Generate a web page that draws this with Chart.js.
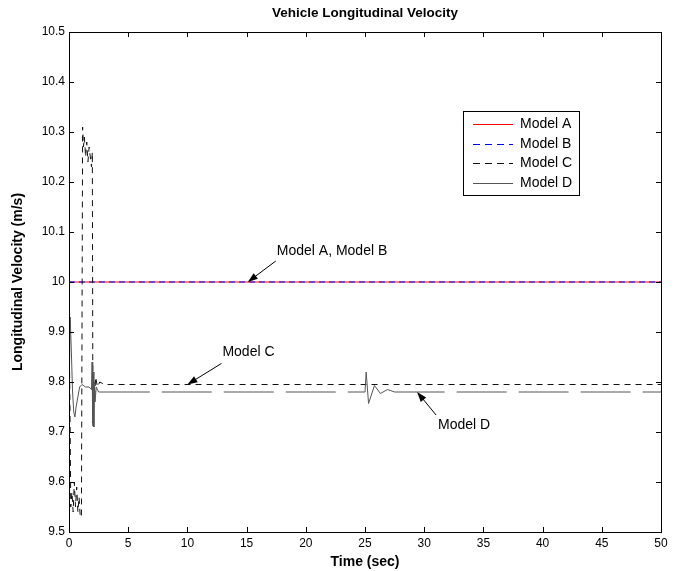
<!DOCTYPE html>
<html>
<head>
<meta charset="utf-8">
<title>Vehicle Longitudinal Velocity</title>
<script src="https://cdn.jsdelivr.net/npm/chart.js@4.4.0/dist/chart.umd.min.js"></script>
<style>
  html, body { margin: 0; padding: 0; background: #fff; }
  canvas { display: block; }
</style>
</head>
<body>
<canvas id="chart" width="679" height="571"></canvas>
<script>
// tick values (MATLAB style axes)
const X_TICKS = [0, 5, 10, 15, 20, 25, 30, 35, 40, 45, 50];
const Y_TICKS = [9.5, 9.6, 9.7, 9.8, 9.9, 10, 10.1, 10.2, 10.3, 10.4, 10.5];

// Model A / Model B: constant 10 m/s
const abTime = [0, 50];
const modelA = [10, 10];
const modelB = [10, 10];

// Model C (dashed): big transient in the first 2 s, then ~9.795
const cTime = [0, 0.08, 0.15, 0.25, 0.35, 0.45, 0.55, 0.65, 0.75, 0.85, 0.95, 1.05, 1.15, 1.22, 1.3, 1.4, 1.5, 1.6, 1.7, 1.8, 1.9, 1.97, 2.02, 2.08, 2.15, 2.25, 2.4, 2.6, 3, 50];
const modelC = [9.93, 9.75, 9.55, 9.58, 9.54, 9.6, 9.55, 9.59, 9.54, 9.57, 9.53, 9.53, 10.31, 10.27, 10.29, 10.25, 10.28, 10.24, 10.27, 10.25, 10.23, 10.26, 9.71, 9.8, 9.76, 9.81, 9.79, 9.8, 9.795, 9.795];

// Model D: small transient, ~9.78, a blip at t = 25 s
const dTime = [0, 0.1, 0.2, 0.3, 0.4, 0.5, 0.6, 0.75, 0.9, 1.1, 1.4, 1.7, 1.9, 1.95, 2.0, 2.05, 2.1, 2.15, 2.2, 2.3, 2.5, 2.6, 25, 25.1, 25.3, 25.8, 26.3, 26.9, 27.5, 50];
const modelD = [9.76, 9.93, 9.86, 9.78, 9.74, 9.73, 9.75, 9.77, 9.79, 9.795, 9.79, 9.79, 9.785, 9.84, 9.72, 9.82, 9.71, 9.8, 9.76, 9.79, 9.78, 9.78, 9.78, 9.82, 9.757, 9.793, 9.777, 9.785, 9.78, 9.78];

const SERIES = [
  { label: "Model A", t: abTime, v: modelA, color: "#ff0000", dash: [] },
  { label: "Model B", t: abTime, v: modelB, color: "#0000ff", dash: [6, 4] },
  { label: "Model C", t: cTime, v: modelC, color: "#111111", dash: [6, 5] },
  { label: "Model D", t: dTime, v: modelD, color: "#555555", dash: [] },
];

// arrow annotations: tip in data units, text / tail offsets in px
const NOTES = [
  { text: "Model A, Model B", tx: 15.1, ty: 10.0, dx: 29, dy: -31, lx: 28, ly: -21 },
  { text: "Model C", tx: 10.0, ty: 9.795, dx: 35, dy: -32, lx: 34, ly: -21 },
  { text: "Model D", tx: 29.4, ty: 9.78, dx: 21, dy: 33, lx: 19, ly: 23 },
];

const FONT = '"Liberation Sans", Arial, sans-serif';
const TICK = 5;

function pairs(t, v) {
  return t.map((x, i) => ({ x, y: v[i] }));
}

function arrow(ctx, x0, y0, x1, y1) {
  const ang = Math.atan2(y1 - y0, x1 - x0);
  const len = 10, half = 3.5;
  ctx.beginPath();
  ctx.moveTo(x0, y0);
  ctx.lineTo(x1 - Math.cos(ang) * len * 0.8, y1 - Math.sin(ang) * len * 0.8);
  ctx.stroke();
  ctx.beginPath();
  ctx.moveTo(x1, y1);
  ctx.lineTo(x1 - Math.cos(ang) * len + Math.sin(ang) * half, y1 - Math.sin(ang) * len - Math.cos(ang) * half);
  ctx.lineTo(x1 - Math.cos(ang) * len - Math.sin(ang) * half, y1 - Math.sin(ang) * len + Math.cos(ang) * half);
  ctx.closePath();
  ctx.fill();
}

const matlabFrame = {
  id: "matlabFrame",
  afterDraw(chart) {
    const { ctx, chartArea: a, scales: { x, y } } = chart;
    ctx.save();

    // axes box + inward ticks on all four sides
    ctx.strokeStyle = "#000";
    ctx.lineWidth = 1;
    ctx.strokeRect(a.left + 0.5, a.top + 0.5, a.right - a.left, a.bottom - a.top);
    ctx.beginPath();
    X_TICKS.forEach((v) => {
      const px = Math.round(x.getPixelForValue(v)) + 0.5;
      ctx.moveTo(px, a.bottom); ctx.lineTo(px, a.bottom - TICK);
      ctx.moveTo(px, a.top); ctx.lineTo(px, a.top + TICK);
    });
    Y_TICKS.forEach((v) => {
      const py = Math.round(y.getPixelForValue(v)) + 0.5;
      ctx.moveTo(a.left, py); ctx.lineTo(a.left + TICK, py);
      ctx.moveTo(a.right, py); ctx.lineTo(a.right - TICK, py);
    });
    ctx.stroke();

    // titles
    ctx.fillStyle = "#000";
    ctx.textAlign = "center";
    ctx.textBaseline = "middle";
    const cx = (a.left + a.right) / 2;
    ctx.font = `bold 13.5px ${FONT}`;
    ctx.fillText("Vehicle Longitudinal Velocity", cx, 13);
    ctx.font = `bold 14px ${FONT}`;
    ctx.fillText("Time (sec)", cx, 562);
    ctx.save();
    ctx.translate(18, (a.top + a.bottom) / 2);
    ctx.rotate(-Math.PI / 2);
    ctx.fillText("Longitudinal Velocity (m/s)", 0, 0);
    ctx.restore();

    // annotations
    ctx.font = `14px ${FONT}`;
    ctx.textAlign = "left";
    NOTES.forEach((n) => {
      const px = x.getPixelForValue(n.tx);
      const py = y.getPixelForValue(n.ty);
      ctx.fillText(n.text, px + n.dx, py + n.dy);
      arrow(ctx, px + n.lx, py + n.ly, px, py);
    });

    // legend box
    const lx = 463, ly = 111, lw = 116, lh = 84, row = 19.5;
    ctx.fillStyle = "#fff";
    ctx.fillRect(lx, ly, lw, lh);
    ctx.strokeStyle = "#000";
    ctx.lineWidth = 1;
    ctx.strokeRect(lx + 0.5, ly + 0.5, lw, lh);
    SERIES.forEach((s, i) => {
      const ry = Math.round(ly + 13 + i * row) + 0.5;
      ctx.strokeStyle = s.color;
      ctx.setLineDash(s.dash.length ? [7, 5] : []);
      ctx.beginPath();
      ctx.moveTo(lx + 10, ry);
      ctx.lineTo(lx + 50, ry);
      ctx.stroke();
      ctx.setLineDash([]);
      ctx.fillStyle = "#000";
      ctx.fillText(s.label, lx + 57, ry);
    });

    ctx.restore();
  },
};

new Chart(document.getElementById("chart"), {
  type: "line",
  data: {
    datasets: SERIES.map((s, i) => ({
      label: s.label,
      data: pairs(s.t, s.v),
      borderColor: s.color,
      borderWidth: 1,
      borderDash: s.dash,
      pointRadius: 0,
      tension: 0,
      fill: false,
      order: 4 - i,
      segment: s.label === "Model D"
        ? { borderDash: (ctx) => (ctx.p1.parsed.x - ctx.p0.parsed.x > 5 ? [50, 12] : []) }
        : undefined,
    })),
  },
  plugins: [matlabFrame],
  options: {
    responsive: false,
    animation: false,
    layout: { padding: { top: 32, right: 18, left: 0, bottom: 0 } },
    plugins: {
      legend: { display: false },
      title: { display: false },
      tooltip: { enabled: false },
    },
    scales: {
      x: {
        type: "linear",
        min: 0,
        max: 50,
        afterFit: (s) => { s.height = 39; },
        afterBuildTicks: (s) => { s.ticks = X_TICKS.map((v) => ({ value: v })); },
        grid: { display: false, drawTicks: false },
        border: { display: false },
        ticks: { padding: 4, color: "#000", font: { family: FONT, size: 12 }, maxRotation: 0 },
      },
      y: {
        type: "linear",
        min: 9.5,
        max: 10.5,
        afterFit: (s) => { s.width = 69; },
        afterBuildTicks: (s) => { s.ticks = Y_TICKS.map((v) => ({ value: v })); },
        grid: { display: false, drawTicks: false },
        border: { display: false },
        ticks: {
          padding: 4,
          color: "#000",
          font: { family: FONT, size: 12 },
          callback: (v) => String(Math.round(v * 10) / 10),
        },
      },
    },
  },
});
</script>
</body>
</html>
